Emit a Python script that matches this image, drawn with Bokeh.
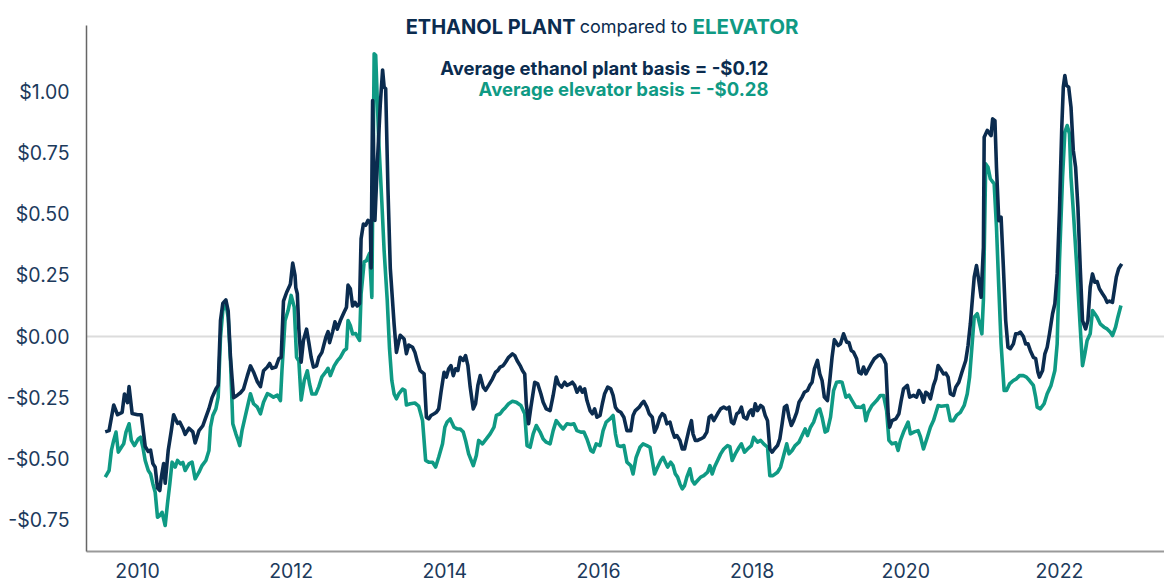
from bokeh.plotting import figure
from bokeh.models import FixedTicker, Label
from bokeh.embed import file_html
from bokeh.resources import INLINE

# ---------------- data ----------------
eth_year = [
    2009.58, 2009.63, 2009.69, 2009.74, 2009.80, 2009.83, 2009.87, 2009.89, 2009.93, 2010.00,
    2010.05, 2010.10, 2010.14, 2010.17, 2010.20, 2010.23, 2010.26, 2010.29, 2010.31, 2010.34,
    2010.36, 2010.40, 2010.44, 2010.47, 2010.52, 2010.55, 2010.59, 2010.62, 2010.67, 2010.72,
    2010.75, 2010.80, 2010.85, 2010.89, 2010.93, 2010.97, 2011.02, 2011.05, 2011.08, 2011.11,
    2011.15, 2011.18, 2011.21, 2011.25, 2011.30, 2011.34, 2011.38, 2011.43, 2011.47, 2011.51,
    2011.56, 2011.60, 2011.64, 2011.69, 2011.72, 2011.75, 2011.80, 2011.84, 2011.87, 2011.90,
    2011.94, 2011.97, 2011.99, 2012.02, 2012.05, 2012.06, 2012.08, 2012.10, 2012.13, 2012.16,
    2012.20, 2012.23, 2012.26, 2012.29, 2012.33, 2012.36, 2012.40, 2012.45, 2012.48, 2012.50,
    2012.54, 2012.57, 2012.60, 2012.64, 2012.69, 2012.72, 2012.74, 2012.77, 2012.80, 2012.83,
    2012.86, 2012.89, 2012.91, 2012.94, 2012.97, 2013.00, 2013.03, 2013.04, 2013.06, 2013.09,
    2013.12, 2013.16, 2013.19, 2013.21, 2013.23, 2013.26, 2013.29, 2013.34, 2013.37, 2013.40,
    2013.42, 2013.47, 2013.50, 2013.53, 2013.58, 2013.61, 2013.64, 2013.68, 2013.73, 2013.76,
    2013.79, 2013.82, 2013.86, 2013.89, 2013.92, 2013.95, 2013.99, 2014.02, 2014.05, 2014.08,
    2014.11, 2014.14, 2014.17, 2014.20, 2014.24, 2014.27, 2014.30, 2014.33, 2014.37, 2014.40,
    2014.43, 2014.46, 2014.50, 2014.53, 2014.57, 2014.62, 2014.66, 2014.69, 2014.72, 2014.76,
    2014.79, 2014.83, 2014.88, 2014.91, 2014.94, 2014.98, 2015.01, 2015.04, 2015.06, 2015.09,
    2015.12, 2015.17, 2015.21, 2015.25, 2015.28, 2015.32, 2015.37, 2015.41, 2015.45, 2015.48,
    2015.52, 2015.56, 2015.59, 2015.63, 2015.66, 2015.69, 2015.72, 2015.76, 2015.79, 2015.82,
    2015.85, 2015.89, 2015.92, 2015.95, 2015.98, 2016.02, 2016.05, 2016.08, 2016.12, 2016.16,
    2016.19, 2016.22, 2016.25, 2016.29, 2016.33, 2016.37, 2016.42, 2016.45, 2016.48, 2016.53,
    2016.56, 2016.59, 2016.63, 2016.66, 2016.70, 2016.73, 2016.76, 2016.80, 2016.83, 2016.86,
    2016.89, 2016.93, 2016.96, 2016.99, 2017.02, 2017.06, 2017.09, 2017.12, 2017.15, 2017.18,
    2017.21, 2017.23, 2017.26, 2017.29, 2017.33, 2017.37, 2017.41, 2017.44, 2017.47, 2017.50,
    2017.55, 2017.59, 2017.63, 2017.67, 2017.70, 2017.73, 2017.76, 2017.80, 2017.83, 2017.86,
    2017.89, 2017.93, 2017.96, 2017.99, 2018.01, 2018.04, 2018.07, 2018.11, 2018.14, 2018.17,
    2018.20, 2018.23, 2018.26, 2018.29, 2018.33, 2018.36, 2018.39, 2018.42, 2018.45, 2018.48,
    2018.51, 2018.54, 2018.58, 2018.61, 2018.65, 2018.68, 2018.72, 2018.75, 2018.78, 2018.81,
    2018.85, 2018.88, 2018.91, 2018.94, 2018.98, 2019.01, 2019.04, 2019.07, 2019.12, 2019.15,
    2019.19, 2019.23, 2019.26, 2019.29, 2019.32, 2019.36, 2019.39, 2019.42, 2019.45, 2019.48,
    2019.51, 2019.55, 2019.59, 2019.64, 2019.67, 2019.71, 2019.74, 2019.77, 2019.79, 2019.82,
    2019.87, 2019.91, 2019.94, 2019.97, 2020.02, 2020.05, 2020.10, 2020.14, 2020.17, 2020.20,
    2020.23, 2020.26, 2020.29, 2020.32, 2020.36, 2020.39, 2020.42, 2020.45, 2020.49, 2020.52,
    2020.55, 2020.58, 2020.62, 2020.65, 2020.69, 2020.73, 2020.78, 2020.81, 2020.84, 2020.89,
    2020.92, 2020.95, 2020.98, 2021.01, 2021.02, 2021.06, 2021.09, 2021.11, 2021.13, 2021.16,
    2021.18, 2021.21, 2021.24, 2021.27, 2021.30, 2021.33, 2021.36, 2021.40, 2021.43, 2021.46,
    2021.49, 2021.53, 2021.56, 2021.59, 2021.62, 2021.66, 2021.69, 2021.72, 2021.74, 2021.78,
    2021.81, 2021.84, 2021.87, 2021.91, 2021.94, 2021.97, 2022.00, 2022.03, 2022.05, 2022.07,
    2022.09, 2022.12, 2022.15, 2022.18, 2022.21, 2022.24, 2022.27, 2022.30, 2022.34, 2022.37,
    2022.40, 2022.43, 2022.46, 2022.49, 2022.52, 2022.56, 2022.59, 2022.62, 2022.65, 2022.69,
    2022.72, 2022.74, 2022.77, 2022.81,
]
eth_basis = [
    -0.390, -0.385, -0.280, -0.320, -0.310, -0.235, -0.270, -0.205, -0.315, -0.320,
    -0.320, -0.450, -0.470, -0.465, -0.520, -0.535, -0.620, -0.630, -0.575, -0.520,
    -0.600, -0.465, -0.385, -0.320, -0.355, -0.350, -0.375, -0.400, -0.375, -0.390,
    -0.435, -0.385, -0.365, -0.330, -0.295, -0.250, -0.215, -0.200, 0.065, 0.135,
    0.150, 0.105, -0.085, -0.250, -0.240, -0.230, -0.215, -0.160, -0.120, -0.145,
    -0.185, -0.205, -0.140, -0.125, -0.110, -0.130, -0.125, -0.090, -0.085, 0.145,
    0.180, 0.200, 0.215, 0.300, 0.250, 0.200, 0.175, 0.030, -0.105, -0.015,
    0.030, -0.025, -0.085, -0.125, -0.120, -0.085, -0.065, -0.005, 0.020, -0.025,
    0.020, 0.060, 0.030, 0.065, 0.100, 0.120, 0.210, 0.195, 0.125, 0.140,
    0.125, 0.135, 0.400, 0.460, 0.455, 0.475, 0.465, 0.280, 0.965, 0.475,
    0.700, 0.950, 1.090, 1.020, 1.013, 0.600, 0.280, 0.050, -0.065, -0.020,
    0.005, -0.010, -0.070, -0.035, -0.044, -0.064, -0.100, -0.140, -0.153, -0.330,
    -0.337, -0.323, -0.316, -0.310, -0.296, -0.228, -0.146, -0.166, -0.132, -0.119,
    -0.160, -0.132, -0.139, -0.085, -0.098, -0.078, -0.119, -0.207, -0.296, -0.275,
    -0.200, -0.160, -0.207, -0.220, -0.200, -0.173, -0.146, -0.139, -0.125, -0.119,
    -0.105, -0.085, -0.071, -0.078, -0.098, -0.119, -0.139, -0.153, -0.275, -0.357,
    -0.289, -0.187, -0.194, -0.234, -0.269, -0.296, -0.303, -0.241, -0.166, -0.194,
    -0.207, -0.187, -0.200, -0.194, -0.187, -0.200, -0.228, -0.207, -0.228, -0.214,
    -0.262, -0.303, -0.316, -0.296, -0.330, -0.323, -0.275, -0.234, -0.207, -0.214,
    -0.241, -0.289, -0.303, -0.310, -0.330, -0.385, -0.385, -0.323, -0.303, -0.289,
    -0.275, -0.265, -0.289, -0.316, -0.330, -0.391, -0.371, -0.330, -0.316, -0.323,
    -0.357, -0.350, -0.385, -0.412, -0.405, -0.425, -0.460, -0.460, -0.419, -0.378,
    -0.344, -0.398, -0.425, -0.425, -0.419, -0.412, -0.391, -0.330, -0.323, -0.344,
    -0.316, -0.296, -0.289, -0.296, -0.289, -0.350, -0.357, -0.316, -0.310, -0.289,
    -0.330, -0.337, -0.310, -0.300, -0.323, -0.275, -0.303, -0.282, -0.289, -0.323,
    -0.344, -0.460, -0.473, -0.460, -0.446, -0.419, -0.357, -0.289, -0.282, -0.330,
    -0.364, -0.344, -0.310, -0.269, -0.248, -0.228, -0.221, -0.200, -0.187, -0.132,
    -0.098, -0.153, -0.180, -0.248, -0.262, -0.180, -0.085, -0.013, -0.037, -0.030,
    0.011, -0.023, -0.025, -0.057, -0.064, -0.091, -0.146, -0.153, -0.125, -0.153,
    -0.135, -0.112, -0.091, -0.078, -0.075, -0.091, -0.112, -0.316, -0.371, -0.344,
    -0.337, -0.316, -0.262, -0.214, -0.200, -0.248, -0.241, -0.248, -0.221, -0.235,
    -0.269, -0.228, -0.235, -0.255, -0.200, -0.173, -0.119, -0.132, -0.153, -0.150,
    -0.166, -0.234, -0.241, -0.207, -0.187, -0.146, -0.098, -0.037, 0.052, 0.243,
    0.290, 0.229, 0.161, 0.365, 0.815, 0.843, 0.830, 0.822, 0.890, 0.883,
    0.692, 0.474, 0.488, 0.283, 0.065, -0.044, -0.050, -0.030, 0.011, 0.011,
    0.018, 0.000, -0.030, -0.030, -0.057, -0.085, -0.090, -0.146, -0.166, -0.139,
    -0.071, -0.044, 0.011, 0.093, 0.134, 0.256, 0.515, 0.856, 1.020, 1.067,
    1.027, 1.020, 0.938, 0.761, 0.692, 0.529, 0.283, 0.065, 0.031, 0.065,
    0.202, 0.256, 0.222, 0.225, 0.195, 0.175, 0.161, 0.140, 0.145, 0.140,
    0.202, 0.243, 0.277, 0.297,
]

elev_year = [
    2009.58, 2009.63, 2009.66, 2009.69, 2009.72, 2009.75, 2009.79, 2009.82, 2009.85, 2009.89,
    2009.92, 2009.96, 2010.01, 2010.04, 2010.07, 2010.10, 2010.14, 2010.17, 2010.20, 2010.23,
    2010.26, 2010.29, 2010.32, 2010.36, 2010.39, 2010.42, 2010.45, 2010.49, 2010.52, 2010.56,
    2010.59, 2010.62, 2010.67, 2010.71, 2010.75, 2010.80, 2010.84, 2010.89, 2010.93, 2010.95,
    2010.98, 2011.02, 2011.05, 2011.08, 2011.11, 2011.15, 2011.18, 2011.21, 2011.24, 2011.28,
    2011.31, 2011.33, 2011.36, 2011.40, 2011.44, 2011.47, 2011.51, 2011.56, 2011.60, 2011.64,
    2011.69, 2011.73, 2011.77, 2011.82, 2011.86, 2011.88, 2011.92, 2011.96, 2012.00, 2012.04,
    2012.07, 2012.10, 2012.13, 2012.17, 2012.21, 2012.24, 2012.27, 2012.32, 2012.36, 2012.40,
    2012.45, 2012.48, 2012.51, 2012.56, 2012.60, 2012.64, 2012.69, 2012.72, 2012.74, 2012.77,
    2012.80, 2012.84, 2012.89, 2012.91, 2012.95, 2012.98, 2013.02, 2013.05, 2013.08, 2013.10,
    2013.14, 2013.18, 2013.21, 2013.25, 2013.28, 2013.31, 2013.34, 2013.37, 2013.40, 2013.45,
    2013.48, 2013.50, 2013.55, 2013.61, 2013.66, 2013.71, 2013.75, 2013.79, 2013.84, 2013.88,
    2013.92, 2013.97, 2014.00, 2014.03, 2014.07, 2014.12, 2014.16, 2014.20, 2014.24, 2014.27,
    2014.31, 2014.37, 2014.41, 2014.44, 2014.49, 2014.54, 2014.59, 2014.64, 2014.67, 2014.72,
    2014.75, 2014.79, 2014.83, 2014.88, 2014.93, 2014.99, 2015.04, 2015.07, 2015.11, 2015.15,
    2015.19, 2015.24, 2015.28, 2015.32, 2015.37, 2015.41, 2015.45, 2015.50, 2015.54, 2015.59,
    2015.64, 2015.68, 2015.72, 2015.77, 2015.81, 2015.85, 2015.90, 2015.93, 2015.97, 2016.02,
    2016.06, 2016.10, 2016.15, 2016.19, 2016.22, 2016.25, 2016.29, 2016.33, 2016.37, 2016.42,
    2016.45, 2016.49, 2016.54, 2016.58, 2016.63, 2016.67, 2016.70, 2016.73, 2016.76, 2016.81,
    2016.84, 2016.87, 2016.90, 2016.94, 2016.97, 2017.00, 2017.03, 2017.06, 2017.09, 2017.12,
    2017.15, 2017.19, 2017.22, 2017.25, 2017.29, 2017.33, 2017.37, 2017.42, 2017.45, 2017.48,
    2017.51, 2017.55, 2017.59, 2017.63, 2017.68, 2017.71, 2017.74, 2017.78, 2017.83, 2017.86,
    2017.90, 2017.94, 2017.99, 2018.02, 2018.07, 2018.11, 2018.15, 2018.20, 2018.23, 2018.27,
    2018.33, 2018.37, 2018.41, 2018.45, 2018.48, 2018.52, 2018.56, 2018.61, 2018.65, 2018.69,
    2018.72, 2018.76, 2018.80, 2018.85, 2018.88, 2018.91, 2018.95, 2018.98, 2019.02, 2019.06,
    2019.10, 2019.14, 2019.17, 2019.22, 2019.26, 2019.30, 2019.35, 2019.39, 2019.42, 2019.45,
    2019.48, 2019.51, 2019.56, 2019.62, 2019.67, 2019.71, 2019.75, 2019.78, 2019.82, 2019.87,
    2019.90, 2019.93, 2019.97, 2020.03, 2020.06, 2020.11, 2020.16, 2020.19, 2020.23, 2020.28,
    2020.32, 2020.36, 2020.42, 2020.46, 2020.54, 2020.58, 2020.62, 2020.66, 2020.71, 2020.76,
    2020.80, 2020.83, 2020.86, 2020.89, 2020.93, 2020.97, 2020.99, 2021.01, 2021.04, 2021.07,
    2021.10, 2021.15, 2021.18, 2021.21, 2021.24, 2021.28, 2021.31, 2021.35, 2021.40, 2021.44,
    2021.48, 2021.53, 2021.57, 2021.61, 2021.66, 2021.69, 2021.71, 2021.75, 2021.80, 2021.84,
    2021.89, 2021.94, 2021.97, 2022.00, 2022.04, 2022.07, 2022.10, 2022.13, 2022.15, 2022.18,
    2022.22, 2022.27, 2022.30, 2022.33, 2022.36, 2022.40, 2022.43, 2022.46, 2022.49, 2022.53,
    2022.58, 2022.62, 2022.66, 2022.69, 2022.73, 2022.76, 2022.80,
]
elev_basis = [
    -0.575, -0.548, -0.466, -0.425, -0.391, -0.473, -0.453, -0.439, -0.391, -0.357,
    -0.425, -0.446, -0.419, -0.412, -0.453, -0.507, -0.548, -0.562, -0.603, -0.637,
    -0.739, -0.732, -0.719, -0.773, -0.684, -0.603, -0.514, -0.534, -0.507, -0.521,
    -0.515, -0.548, -0.521, -0.514, -0.582, -0.555, -0.528, -0.507, -0.466, -0.371,
    -0.323, -0.296, -0.248, -0.003, 0.106, 0.134, 0.079, -0.098, -0.357, -0.398,
    -0.425, -0.446, -0.385, -0.330, -0.275, -0.234, -0.275, -0.289, -0.316, -0.269,
    -0.234, -0.240, -0.248, -0.240, -0.262, -0.139, 0.065, 0.106, 0.168, 0.120,
    -0.085, -0.100, -0.260, -0.180, -0.140, -0.195, -0.235, -0.235, -0.205, -0.165,
    -0.145, -0.130, -0.160, -0.120, -0.100, -0.085, -0.057, -0.050, 0.065, 0.045,
    0.010, 0.012, -0.016, 0.175, 0.305, 0.310, 0.340, 0.160, 1.156, 1.150,
    0.800, 0.550, 0.350, 0.150, -0.050, -0.180, -0.235, -0.255, -0.235, -0.215,
    -0.220, -0.280, -0.275, -0.272, -0.285, -0.344, -0.507, -0.514, -0.514, -0.534,
    -0.494, -0.439, -0.371, -0.350, -0.337, -0.371, -0.378, -0.378, -0.391, -0.425,
    -0.480, -0.528, -0.487, -0.425, -0.439, -0.419, -0.398, -0.371, -0.323, -0.316,
    -0.303, -0.290, -0.275, -0.265, -0.269, -0.282, -0.316, -0.446, -0.453, -0.398,
    -0.364, -0.391, -0.419, -0.432, -0.439, -0.385, -0.344, -0.364, -0.378, -0.357,
    -0.360, -0.357, -0.385, -0.391, -0.391, -0.419, -0.466, -0.473, -0.439, -0.446,
    -0.385, -0.350, -0.337, -0.323, -0.398, -0.446, -0.450, -0.446, -0.514, -0.528,
    -0.562, -0.494, -0.453, -0.439, -0.446, -0.453, -0.507, -0.562, -0.541, -0.507,
    -0.494, -0.514, -0.534, -0.514, -0.528, -0.562, -0.575, -0.603, -0.623, -0.610,
    -0.575, -0.541, -0.589, -0.603, -0.589, -0.575, -0.569, -0.555, -0.528, -0.562,
    -0.534, -0.507, -0.480, -0.460, -0.446, -0.450, -0.507, -0.480, -0.453, -0.439,
    -0.473, -0.460, -0.446, -0.412, -0.432, -0.425, -0.439, -0.453, -0.569, -0.569,
    -0.555, -0.534, -0.487, -0.439, -0.480, -0.466, -0.446, -0.432, -0.405, -0.378,
    -0.405, -0.371, -0.350, -0.303, -0.296, -0.330, -0.391, -0.385, -0.330, -0.221,
    -0.187, -0.185, -0.187, -0.248, -0.240, -0.262, -0.289, -0.289, -0.290, -0.282,
    -0.344, -0.310, -0.282, -0.262, -0.241, -0.241, -0.303, -0.425, -0.439, -0.435,
    -0.466, -0.425, -0.391, -0.350, -0.398, -0.390, -0.385, -0.410, -0.460, -0.412,
    -0.371, -0.344, -0.282, -0.285, -0.282, -0.344, -0.344, -0.323, -0.310, -0.282,
    -0.234, -0.166, -0.044, 0.079, 0.093, 0.038, 0.011, 0.150, 0.706, 0.692,
    0.645, 0.624, 0.447, 0.202, -0.030, -0.221, -0.221, -0.194, -0.180, -0.173,
    -0.160, -0.160, -0.166, -0.180, -0.200, -0.248, -0.289, -0.296, -0.275, -0.234,
    -0.200, -0.139, -0.030, 0.311, 0.652, 0.836, 0.863, 0.829, 0.652, 0.515,
    0.311, 0.038, -0.119, -0.071, -0.016, 0.011, 0.106, 0.093, 0.079, 0.052,
    0.038, 0.031, 0.018, 0.004, 0.038, 0.079, 0.127,
]

x_ticks = [2010, 2012, 2014, 2016, 2018, 2020, 2022]
y_ticks = [-0.75, -0.5, -0.25, 0.0, 0.25, 0.5, 0.75, 1.0]
y_tick_labels = ["-$0.75", "-$0.50", "-$0.25", "$0.00", "$0.25", "$0.50", "$0.75", "$1.00"]

title_parts = ["ETHANOL PLANT", "compared to", "ELEVATOR"]
avg_texts = ["Average ethanol plant basis = -$0.12", "Average elevator basis = -$0.28"]

# ---------------- style ----------------
NAVY = "#0b2c4f"
GREEN = "#0f9a84"
TXT = "#1c3a5c"
FONT = "Inter"

Y_LOW, Y_AXIS_TOP, Y_FRAME_TOP = -0.8793, 1.272, 1.3742

p = figure(
    width=1164, height=585,
    x_range=(2009.336, 2023.367), y_range=(Y_LOW, Y_FRAME_TOP),
    output_backend="svg", toolbar_location=None,
    min_border_left=86, min_border_right=0, min_border_top=0, min_border_bottom=34,
)
p.outline_line_color = None
p.background_fill_color = "white"
p.border_fill_color = "white"

p.xgrid.visible = False
p.ygrid.ticker = FixedTicker(ticks=[0.0])
p.ygrid.grid_line_color = "#dcdcdc"
p.ygrid.grid_line_width = 2

p.yaxis.ticker = FixedTicker(ticks=y_ticks)
p.yaxis.bounds = (Y_LOW, Y_AXIS_TOP)
p.yaxis.major_label_overrides = {t: l for t, l in zip(y_ticks, y_tick_labels)}
p.yaxis.axis_line_color = "#666666"
p.yaxis.axis_line_width = 1.5
p.yaxis.major_tick_line_color = None
p.yaxis.minor_tick_line_color = None
p.yaxis.major_tick_in = 0
p.yaxis.major_tick_out = 0
p.yaxis.major_label_standoff = 17
p.yaxis.major_label_text_font = FONT
p.yaxis.major_label_text_font_size = "19.5px"
p.yaxis.major_label_text_color = TXT

p.xaxis.ticker = FixedTicker(ticks=x_ticks)
p.xaxis.axis_line_color = "#9a9a9a"
p.xaxis.axis_line_width = 2
p.xaxis.major_tick_line_color = None
p.xaxis.minor_tick_line_color = None
p.xaxis.major_tick_in = 0
p.xaxis.major_tick_out = 0
p.xaxis.major_label_standoff = 11
p.xaxis.major_label_text_font = FONT
p.xaxis.major_label_text_font_size = "19.5px"
p.xaxis.major_label_text_color = TXT

p.line(elev_year, elev_basis, line_color=GREEN, line_width=3.6, line_join="round")
p.line(eth_year, eth_basis, line_color=NAVY, line_width=3.6, line_join="round")

# title pieces (screen units relative to the frame's bottom-left)
p.add_layout(Label(x=489, y=525, x_units="screen", y_units="screen", text=title_parts[0],
                   text_font=FONT, text_font_style="bold", text_font_size="20px",
                   text_color=NAVY, text_baseline="alphabetic", text_align="right"))
p.add_layout(Label(x=547, y=525, x_units="screen", y_units="screen", text=title_parts[1],
                   text_font=FONT, text_font_style="normal", text_font_size="18px",
                   text_color=NAVY, text_baseline="alphabetic", text_align="center"))
p.add_layout(Label(x=606, y=525, x_units="screen", y_units="screen", text=title_parts[2],
                   text_font=FONT, text_font_style="bold", text_font_size="20.5px",
                   text_color=GREEN, text_baseline="alphabetic", text_align="left"))

p.add_layout(Label(x=682, y=484, x_units="screen", y_units="screen", text=avg_texts[0],
                   text_font=FONT, text_font_style="bold", text_font_size="18.5px",
                   text_color=NAVY, text_baseline="alphabetic", text_align="right"))
p.add_layout(Label(x=682, y=463, x_units="screen", y_units="screen", text=avg_texts[1],
                   text_font=FONT, text_font_style="bold", text_font_size="18.5px",
                   text_color=GREEN, text_baseline="alphabetic", text_align="right"))

open("out.html", "w").write(file_html(p, INLINE))
